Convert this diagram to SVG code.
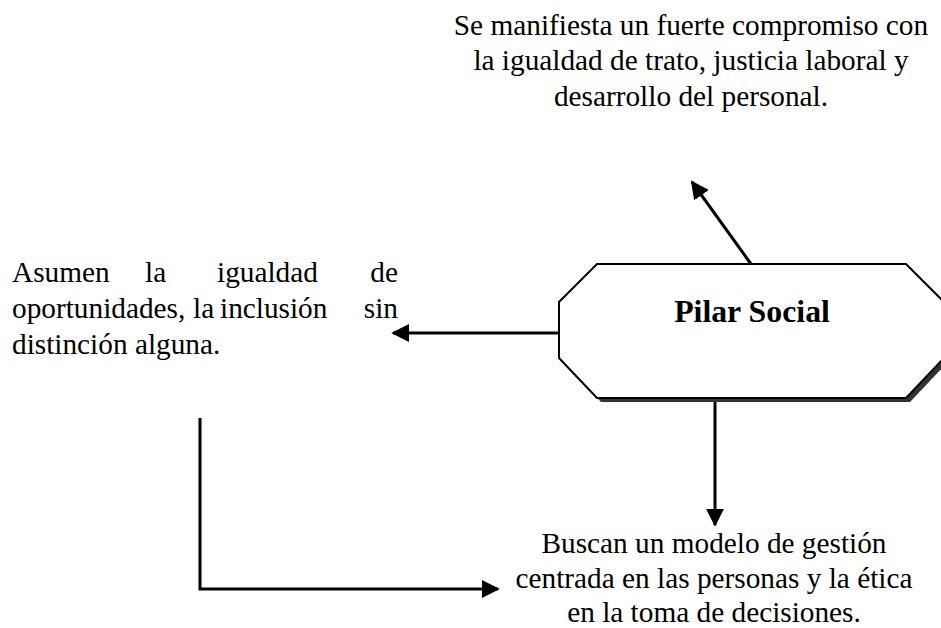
<svg xmlns="http://www.w3.org/2000/svg" width="941" height="628" viewBox="0 0 941 628">
<style>
text{font-family:"Liberation Serif","Times New Roman",serif;font-size:29.3px;fill:#000}
.c{text-anchor:middle}
.b{font-weight:bold;font-size:31.8px}
.ln{stroke:#000;stroke-width:3;fill:none}
</style>
<defs>
<marker id="ahb" viewBox="0 0 10 10" refX="9" refY="5" markerWidth="18" markerHeight="18" markerUnits="userSpaceOnUse" orient="auto">
<path d="M0,0 L10,5 L0,10 z" fill="#000"/>
</marker>
</defs>
<rect width="941" height="628" fill="#fff"/>
<g id="pilar">
<polygon points="601,268 910,268 948,306 948,362 910,402 601,402 563,362 563,306" fill="#333"/>
<polygon points="597,264 906,264 944,302 944,358 906,398 597,398 559,358 559,302" fill="#fff" stroke="#000" stroke-width="2"/>
<text class="c b" x="752" y="322">Pilar Social</text>
</g>
<g id="top-text">
<text class="c" x="691" y="35">Se manifiesta un fuerte compromiso con</text>
<text class="c" x="691" y="70">la igualdad de trato, justicia laboral y</text>
<text class="c" x="691" y="106">desarrollo del personal.</text>
</g>
<g id="left-text">
<text x="12" y="282">Asumen</text>
<text x="145" y="282">la</text>
<text x="217" y="282">igualdad</text>
<text x="398" y="282" text-anchor="end">de</text>
<text x="12" y="318">oportunidades,</text>
<text x="193" y="318">la</text>
<text x="220" y="318">inclusión</text>
<text x="398" y="318" text-anchor="end">sin</text>
<text x="12" y="354">distinción alguna.</text>
</g>
<g id="bottom-text">
<text class="c" x="714" y="553">Buscan un modelo de gestión</text>
<text class="c" x="714" y="588">centrada en las personas y la ética</text>
<text class="c" x="714" y="622">en la toma de decisiones.</text>
</g>
<g id="connectors">
<line class="ln" x1="751" y1="264" x2="692" y2="182" marker-end="url(#ahb)"/>
<line class="ln" x1="559" y1="333" x2="393" y2="333" marker-end="url(#ahb)"/>
<line class="ln" x1="715" y1="402" x2="715" y2="525" marker-end="url(#ahb)"/>
<polyline class="ln" points="200,418 200,589 498,589" marker-end="url(#ahb)"/>
</g>
</svg>
